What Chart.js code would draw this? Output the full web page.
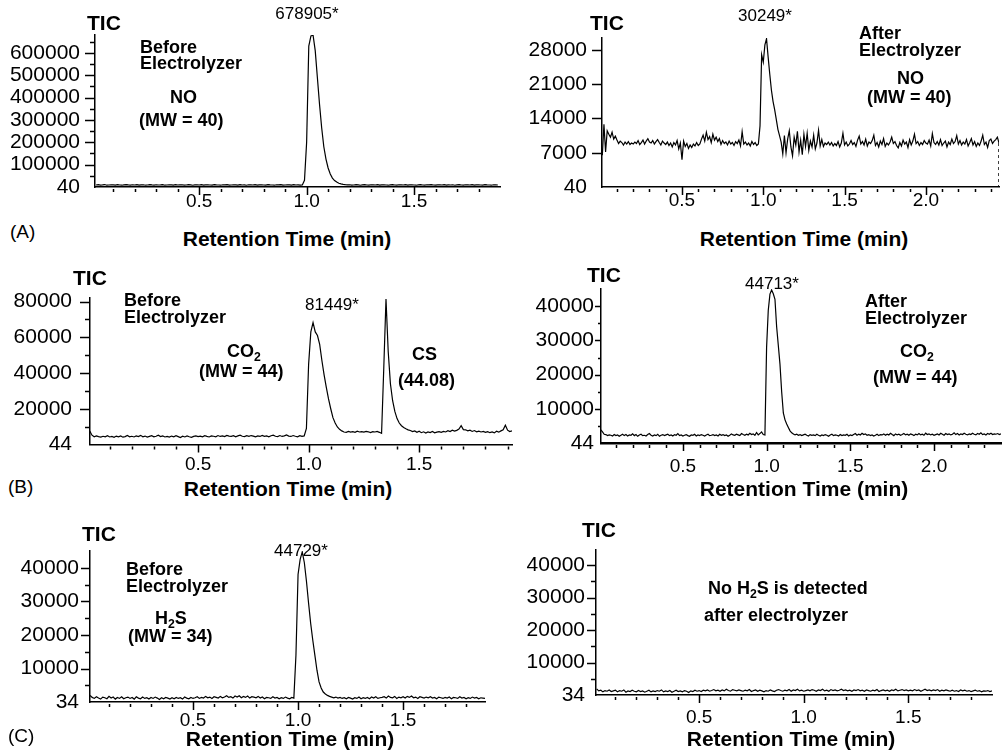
<!DOCTYPE html>
<html>
<head>
<meta charset="utf-8">
<script src="https://cdn.jsdelivr.net/npm/chart.js@4.4.1/dist/chart.umd.min.js"></script>
<style>
  body { margin: 0; background: #fff; }
  #page { position: relative; width: 1003px; height: 753px; overflow: hidden; background: #fff;
          font-family: 'Liberation Sans', Arial, Helvetica, sans-serif; color: #000; }
  #page canvas { position: absolute; }
  .t { position: absolute; white-space: nowrap; line-height: 1; z-index: 5; }
  .b { font-weight: bold; font-size: 18px; }
  .tic { font-weight: bold; font-size: 21px; }
  .pk { font-size: 17px; transform: translateX(-50%); }
  .ax { font-weight: bold; font-size: 21px; transform: translateX(-50%); }
  .pl { font-size: 19px; }
  sub { font-size: 0.68em; vertical-align: -0.3em; line-height: 0; }
</style>
</head>
<body>
<div id="page">
  <!-- (A) NO before / after -->
  <div class="t tic" style="left:87px;top:12px">TIC</div>
  <div class="t pk" style="left:307px;top:5px">678905*</div>
  <div class="t b" style="left:140px;top:38px">Before</div>
  <div class="t b" style="left:140px;top:54px">Electrolyzer</div>
  <div class="t b" style="left:170px;top:88px">NO</div>
  <div class="t b" style="left:139px;top:111px">(MW = 40)</div>
  <div class="t pl" style="left:10px;top:222px">(A)</div>
  <div class="t ax" style="left:287px;top:228px">Retention Time (min)</div>

  <div class="t tic" style="left:590px;top:12px">TIC</div>
  <div class="t pk" style="left:765px;top:7px">30249*</div>
  <div class="t b" style="left:859px;top:24px">After</div>
  <div class="t b" style="left:859px;top:41px">Electrolyzer</div>
  <div class="t b" style="left:897px;top:69px">NO</div>
  <div class="t b" style="left:867px;top:88px">(MW = 40)</div>
  <div class="t ax" style="left:804px;top:228px">Retention Time (min)</div>

  <!-- (B) CO2 before / after -->
  <div class="t tic" style="left:73px;top:267px">TIC</div>
  <div class="t b" style="left:124px;top:291px">Before</div>
  <div class="t b" style="left:124px;top:308px">Electrolyzer</div>
  <div class="t pk" style="left:332px;top:296px">81449*</div>
  <div class="t b" style="left:227px;top:342px">CO<sub>2</sub></div>
  <div class="t b" style="left:199px;top:362px">(MW = 44)</div>
  <div class="t b" style="left:412px;top:345px">CS</div>
  <div class="t b" style="left:398px;top:371px">(44.08)</div>
  <div class="t pl" style="left:8px;top:477px">(B)</div>
  <div class="t ax" style="left:288px;top:478px">Retention Time (min)</div>

  <div class="t tic" style="left:587px;top:264px">TIC</div>
  <div class="t pk" style="left:772px;top:275px">44713*</div>
  <div class="t b" style="left:865px;top:292px">After</div>
  <div class="t b" style="left:865px;top:309px">Electrolyzer</div>
  <div class="t b" style="left:900px;top:342px">CO<sub>2</sub></div>
  <div class="t b" style="left:873px;top:368px">(MW = 44)</div>
  <div class="t ax" style="left:804px;top:478px">Retention Time (min)</div>

  <!-- (C) H2S before / after -->
  <div class="t tic" style="left:82px;top:523px">TIC</div>
  <div class="t pk" style="left:301px;top:542px">44729*</div>
  <div class="t b" style="left:126px;top:560px">Before</div>
  <div class="t b" style="left:126px;top:577px">Electrolyzer</div>
  <div class="t b" style="left:155px;top:609px">H<sub>2</sub>S</div>
  <div class="t b" style="left:128px;top:627px">(MW = 34)</div>
  <div class="t pl" style="left:8px;top:726px">(C)</div>
  <div class="t ax" style="left:290px;top:728px">Retention Time (min)</div>

  <div class="t tic" style="left:582px;top:519px">TIC</div>
  <div class="t b" style="left:708px;top:579px">No H<sub>2</sub>S is detected</div>
  <div class="t b" style="left:704px;top:606px">after electrolyzer</div>
  <div class="t ax" style="left:791px;top:728px">Retention Time (min)</div>
</div>

<script>
// scan grid: every trace is sampled every 0.01 min from its start time
const scanStep = 0.01;

// (A) NO, before electrolyzer, t = 0.02 .. 1.89
const noBeforeStart = 0.02;
const noBefore = [
  // 0.02 - 0.97
  9000, 10500, 8500, 9500, 11000, 8000, 9000, 10000, 9500, 8500,
  10500, 9000, 8000, 9500, 11000, 9500, 8500, 10000, 9000, 10500,
  8500, 9500, 10000, 8000, 9000, 11000, 9500, 8500, 10000, 9000,
  9500, 10500, 8000, 9000, 10000, 9500, 8500, 11000, 9000, 9500,
  10000, 8500, 9000, 10500, 9500, 8000, 9500, 10000, 9000, 11000,
  8500, 9500, 10000, 9000, 8500, 10500, 9500, 9000, 8000, 10000,
  9500, 11000, 8500, 9000, 10000, 9500, 8500, 10500, 9000, 9500,
  8000, 10000, 9500, 9000, 11000, 8500, 9500, 10000, 9000, 8500,
  10500, 9500, 9000, 8000, 10000, 9500, 11000, 8500, 9000, 10000,
  9500, 8500, 10500, 9000, 9500, 8500,
  // 0.98 - 1.18 peak
  9500, 30000, 200000, 630000, 676000, 678905, 610000, 490000, 370000, 265000,
  180000, 125000, 85000, 58000, 40000, 29000, 22000, 17000, 14000, 12000, 10500,
  // 1.19 - 1.89
  9500, 10000, 8500, 9000, 10500, 9500, 8000, 9500, 11000, 9000,
  8500, 10000, 9500, 9000, 10500, 8500, 9500, 10000, 9000, 8000,
  9500, 11000, 9000, 8500, 10000, 9500, 9000, 10500, 8500, 9500,
  10000, 9000, 8000, 9500, 10500, 9000, 8500, 10000, 9500, 11000,
  9000, 8500, 9500, 10000, 9000, 10500, 8500, 9500, 9000, 10000,
  8000, 9500, 10500, 9000, 8500, 10000, 9500, 9000, 11000, 8500,
  9500, 10000, 9000, 8500, 10500, 9500, 9000, 8000, 10000, 9500,
  9000
];

// (A) NO, after electrolyzer, t = 0.01 .. 2.45
const noAfterStart = 0.01;
const noAfter = [
  6500, 12800, 7200, 11500, 10800, 10200, 11200, 9800, 10400, 9600,
  8900, 9400, 9100, 8600, 9200, 8800, 9300, 8700, 9000, 8800,
  9200, 8900, 9500, 8700, 9100, 9600, 8800, 9400, 9900, 9200,
  9000, 9500, 8800, 9300, 9700, 9100, 8600, 9400, 9000, 8700,
  9200, 8500, 9000, 8200, 9100, 8600, 9500, 7800, 9000, 5600,
  9400, 8300, 8900, 7900, 8600, 8100, 8800, 8400, 9100, 8500,
  8800, 9800, 10600, 9400, 11200, 9700, 10300, 9100, 10800, 9600,
  10200, 9300, 9900, 8700, 9500, 8900, 9200, 8600, 9400, 8800,
  9100, 8500, 9300, 8900, 9600, 8400, 11300, 8800, 9200, 8600,
  9000, 8400, 9300, 8700, 9100, 8500, 8800, 12500, 27000, 25500,
  29000, 30249, 26500, 23000, 19800, 17500, 15800, 13800, 11800, 10500,
  9200, 6800, 10500, 7000, 9800, 11500, 8200, 6400, 10200, 8600,
  11400, 7200, 9600, 6600, 10800, 8300, 11000, 7500, 9400, 8200,
  10600, 7800, 9000, 11600, 8400, 9700, 8300, 9000, 8700, 9200,
  8600, 9100, 8400, 8900, 8500, 9300, 8200, 9000, 11000, 8600,
  9200, 8400, 8800, 9500, 8700, 9100, 8300, 9600, 10400, 8800,
  9300, 8600, 9800, 8400, 9200, 8900, 9500, 10600, 8500, 9100,
  8200, 9400, 8700, 9900, 8300, 9000, 8600, 9200, 10200, 8900,
  9300, 8500, 8000, 9100, 8400, 9600, 8800, 9200, 8100, 9700,
  8600, 9400, 10800, 8900, 9300, 8500, 9100, 8700, 9500, 9000,
  8800, 9600, 8400, 10900, 9100, 8700, 9300, 8600, 9700, 8500,
  9000, 9400, 8200, 9200, 8700, 9800, 8900, 9300, 10500, 8800,
  9500, 8600, 9200, 8800, 9700, 8400, 9100, 9900, 8600, 9300,
  8300, 9000, 8500, 9400, 10600, 8700, 9200, 8100, 9500, 9800,
  8900, 9400, 9700, 10200, 9000
];
// dotted drop at the end of the scan
const noAfterTailTime = 2.45;
const noAfterTail = [9000, 40];

// (B) CO2 before electrolyzer, t = 0.01 .. 1.92
const co2BeforeStart = 0.01;
const co2Before = [
  7500, 5200, 4300, 4800, 4400, 4100, 4600, 4300, 4900, 4200,
  4500, 4000, 4700, 4300, 4800, 4100, 4400, 5000, 4300, 4600,
  4200, 4800, 4400, 5100, 4300, 4700, 4100, 4500, 4900, 4300,
  4600, 5200, 4400, 4800, 4200, 4500, 4100, 4700, 4300, 4900,
  4400, 3900, 4600, 4200, 4800, 4300, 4000, 4500, 4800, 4400,
  4700, 4300, 4900, 4500, 4200, 4800, 4600, 4300, 5000, 4500,
  4800, 4400, 5100, 4700, 4500, 4900, 4300, 4800, 5200, 4600,
  4400, 4900, 4600, 5000, 4700, 4300, 4800, 4500, 5100, 4600,
  4800, 4300, 4900, 5200, 4600, 4400, 5000, 4500, 4800, 5300,
  4700, 4500, 5000, 4600, 4300, 4900, 4500, 4800, 9000, 45000,
  63000, 68200, 63000, 61000, 56000, 47000, 39000, 32000, 25500, 20000,
  15000, 12000, 9800, 8500, 7600, 7000, 6800, 7300, 6900, 7200,
  6800, 7400, 7000, 7200, 6900, 7300, 7100, 6700, 7200, 7000,
  7300, 6800, 6200, 43000, 81449, 52000, 34000, 24500, 18500, 14500,
  12000, 10500, 9500, 8800, 8200, 7800, 7200, 7600, 6800, 7400,
  6600, 7100, 6400, 7000, 6700, 7300, 6500, 6900, 7200, 6800,
  7300, 7000, 7700, 7200, 8000, 7500, 7900, 8600, 10500, 8300,
  8200, 7600, 8000, 7300, 7800, 7100, 7500, 7000, 7300, 6800,
  7200, 6600, 7000, 6500, 7400, 6900, 7600, 8200, 10800, 8000,
  7200, 7600
];

// (B) CO2 after electrolyzer, t = 0.01 .. 2.40
const co2AfterStart = 0.01;
const co2After = [
  3900, 3300, 2600, 2500, 2200, 2400, 2300, 2100, 2500, 2200,
  2400, 2000, 2300, 2600, 2200, 2500, 2100, 2400, 2300, 2700,
  2200, 2500, 2000, 2400, 2600, 2200, 2300, 2100, 2500, 2800,
  2300, 2100, 2400, 2200, 2600, 2000, 2300, 2500, 2200, 2400,
  2600, 2200, 2400, 2100, 2500, 2300, 2800, 2200, 2400, 2100,
  2300, 2500, 2200, 2000, 2400, 2300, 2600, 2100, 2400, 2200,
  2500, 2300, 2100, 2400, 2600, 2200, 2300, 2500, 2200, 2400,
  2100, 2600, 2300, 2500, 2200, 2400, 2000, 2300, 2700, 2400,
  2300, 2600, 2400, 2200, 2800, 2500, 2300, 2600, 2400, 2900,
  2500, 2700, 2300, 3100, 2400, 2800, 3300, 2500, 2400, 28000,
  38800, 43500, 44713, 43600, 42000, 34000, 28500, 23000, 15000, 8800,
  6800, 5600, 4600, 3600, 3000, 2700, 2400, 2600, 2300, 2500,
  2200, 2400, 2600, 2300, 2100, 2500, 2300, 2400, 2200, 2600,
  2300, 2100, 2400, 2200, 2500, 2300, 2000, 2400, 2600, 2200,
  2400, 2300, 2100, 2500, 2200, 2400, 2300, 2600, 2100, 2400,
  2200, 2500, 2800, 2300, 2600, 2400, 2900, 2500, 2700, 2300,
  2500, 2200, 2400, 2100, 2300, 2600, 2200, 2500, 2400, 2700,
  2300, 2600, 2400, 2900, 2500, 2200, 2700, 2400, 2600, 2300,
  2500, 2800, 2400, 2600, 2300, 2700, 2500, 2200, 2600, 2400,
  2800, 2400, 2600, 2300, 2900, 2500, 2700, 2400, 2600, 2300,
  2500, 2700, 2400, 2900, 2600, 2300, 2800, 2500, 2700, 2400,
  2600, 3000, 2500, 2800, 2400, 2700, 2500, 2900, 2600, 2400,
  2700, 2500, 2900, 2600, 2400, 2800, 2600, 3000, 2500, 2700,
  2400, 2800, 2600, 2900, 2500, 2700, 2600, 2800, 2500, 2700
];

// (C) H2S before electrolyzer, t = 0.01 .. 1.89
const h2sBeforeStart = 0.01;
const h2sBefore = [
  2000, 1400, 1100, 1600, 1200, 900, 1500, 1300, 1000, 1700,
  1200, 1500, 900, 1400, 1100, 1600, 1000, 1300, 1500, 1100,
  1400, 900, 1600, 1200, 1000, 1500, 1100, 1300, 900, 1400,
  1100, 1500, 1200, 800, 1300, 1000, 1400, 1200, 900, 1300,
  1000, 1400, 1100, 1300, 900, 1500, 1200, 1000, 1400, 1100,
  1300, 1600, 1100, 1400, 1200, 1700, 1300, 1500, 1100, 1600,
  1400, 1200, 1700, 1300, 1500, 1900, 1400, 1600, 1200, 1800,
  1500, 1900, 1300, 1700, 1400, 1800, 1200, 1600, 1500, 1300,
  1700, 1200, 1500, 1000, 1400, 1300, 1100, 1600, 1200, 1400,
  1000, 1300, 1100, 1500, 1200, 1000, 1400, 1200, 14000, 38000,
  42500, 44729, 41500, 36000, 29500, 23500, 18500, 14000, 9500, 6000,
  4200, 3000, 2400, 2000, 1700, 1500, 1300, 1500, 1200, 1400,
  1100, 1300, 1000, 1400, 1200, 900, 1300, 1100, 1500, 1000,
  1300, 1100, 1400, 1000, 1500, 1200, 1600, 1100, 1300, 1400,
  1600, 1200, 1800, 1400, 1300, 1700, 1100, 1500, 1300, 1600,
  1200, 1700, 1400, 1800, 1300, 1500, 1100, 1600, 1400, 1200,
  1500, 1300, 1600, 1200, 1400, 1000, 1500, 1300, 1100, 1400,
  1200, 1500, 1000, 1400, 1300, 1100, 1600, 1200, 1400, 1000,
  1300, 1100, 1500, 1200, 1400, 1000, 1300, 1200, 1100
];

// (C) H2S after electrolyzer, t = 0.01 .. 1.90
const h2sAfterStart = 0.01;
const h2sAfter = [
  1900, 1300, 1500, 1000, 1400, 1200, 1600, 1100, 1300, 1500,
  1000, 1400, 1200, 1600, 900, 1300, 1100, 1500, 1200, 1000,
  1400, 1100, 1300, 900, 1200, 1500, 1000, 1300, 1100, 1400,
  1200, 1600, 1000, 1300, 1100, 1400, 900, 1200, 1500, 1100,
  1300, 1000, 1400, 1200, 800, 1300, 1100, 1500, 1200, 1400,
  1100, 1500, 1300, 1600, 1200, 1400, 1700, 1300, 1500, 1200,
  1600, 1300, 1800, 1400, 1200, 1700, 1500, 1300, 1600, 1400,
  1200, 1500, 1300, 1700, 1100, 1400, 1600, 1200, 1500, 1300,
  1000, 1400, 1200, 1600, 1300, 1100, 1500, 1700, 1400, 1200,
  1500, 1300, 1700, 1200, 1600, 1400, 1800, 1300, 1500, 1200,
  1400, 1600, 1300, 1700, 1500, 1200, 1600, 1400, 1800, 1300,
  1500, 1200, 1700, 1400, 1600, 1300, 1500, 1800, 1400, 1600,
  1300, 1500, 1200, 1600, 1400, 1700, 1300, 1500, 1200, 1600,
  1400, 1200, 1500, 1300, 1700, 1100, 1400, 1600, 1300, 1500,
  1200, 1600, 1400, 1800, 1300, 1500, 1700, 1400, 1600, 1300,
  1500, 1300, 1700, 1400, 1600, 1200, 1500, 1800, 1400, 1600,
  1300, 1600, 1400, 1700, 1200, 1500, 1300, 1600, 1400, 1200,
  1500, 1200, 1400, 1100, 1600, 1300, 1500, 1200, 1400, 1100,
  1300, 1500, 1200, 1400, 1000, 1300, 1200, 1400, 1100, 1300
];

// axis tick labels
const xLabelsShort = [0.5, 1.0, 1.5];
const xLabelsLong = [0.5, 1.0, 1.5, 2.0];
const yLabelsNoBefore = [40, 100000, 200000, 300000, 400000, 500000, 600000];
const yLabelsNoAfter = [40, 7000, 14000, 21000, 28000];
const yLabelsCo2Before = [44, 20000, 40000, 60000, 80000];
const yLabelsCo2After = [44, 10000, 20000, 30000, 40000];
const yLabelsH2s = [34, 10000, 20000, 30000, 40000];

const FONT = "'Liberation Sans', Arial, Helvetica, sans-serif";
Chart.defaults.font.family = FONT;
Chart.defaults.color = '#000';

function toPoints(start, values) {
  return values.map((v, i) => ({ x: +(start + i * scanStep).toFixed(3), y: v }));
}

// hand-drawn style tick marks (major + minor) on both axes
const tickMarks = {
  id: 'tickMarks',
  afterDraw(chart, args, o) {
    const { ctx, chartArea: a, scales: { x, y } } = chart;
    ctx.save();
    ctx.strokeStyle = '#000';
    ctx.lineWidth = 1.5;
    ctx.beginPath();
    o.yMajor.forEach(v => {
      const py = Math.round(y.getPixelForValue(v)) + 0.5;
      ctx.moveTo(a.left - o.yLen, py); ctx.lineTo(a.left, py);
    });
    if (o.yMinorStep) {
      for (let v = o.yMinorStep; v < y.max; v += o.yMinorStep) {
        if (o.yMajor.includes(v)) continue;
        const py = Math.round(y.getPixelForValue(v)) + 0.5;
        ctx.moveTo(a.left - Math.round(o.yLen / 2), py); ctx.lineTo(a.left, py);
      }
    }
    o.xMajor.forEach(v => {
      const px = Math.round(x.getPixelForValue(v)) + 0.5;
      ctx.moveTo(px, a.bottom); ctx.lineTo(px, a.bottom + 8);
    });
    for (let k = 1; k / 10 < x.max; k++) {
      if (k % 5 === 0) continue;
      const px = Math.round(x.getPixelForValue(k / 10)) + 0.5;
      ctx.moveTo(px, a.bottom + 2); ctx.lineTo(px, a.bottom + 5);
    }
    ctx.stroke();
    ctx.restore();
  }
};

function panel(spec) {
  const page = document.getElementById('page');
  const cv = document.createElement('canvas');
  const [bl, bt, bw, bh] = spec.box;
  const [l, t, r, b] = spec.area;
  cv.width = bw; cv.height = bh;
  cv.style.left = bl + 'px'; cv.style.top = bt + 'px';
  cv.style.width = bw + 'px'; cv.style.height = bh + 'px';
  page.appendChild(cv);

  return new Chart(cv, {
    type: 'line',
    data: { datasets: spec.datasets },
    options: {
      responsive: false,
      animation: false,
      devicePixelRatio: 1,
      events: [],
      layout: { padding: { left: 0, top: t - bt, right: bl + bw - r, bottom: 0 } },
      elements: {
        point: { radius: 0 },
        line: { borderWidth: 1.2, borderColor: '#000', tension: 0 }
      },
      plugins: {
        legend: { display: false },
        tooltip: { enabled: false },
        tickMarks: {
          yMajor: spec.yLabels.slice(1), yMinorStep: spec.yMinorStep, yLen: spec.yLen,
          xMajor: spec.xLabels
        }
      },
      scales: {
        x: {
          type: 'linear', min: spec.xMin, max: spec.xMax,
          afterBuildTicks: s => { s.ticks = spec.xLabels.map(v => ({ value: v })); },
          afterFit: s => { s.height = bt + bh - b; },
          ticks: {
            callback: v => v.toFixed(1), autoSkip: false, maxRotation: 0,
            padding: spec.xPad, font: { size: 19 }, color: '#000'
          },
          grid: { display: false, drawTicks: false },
          border: { display: true, color: '#000', width: spec.xBorder || 1.5 }
        },
        y: {
          type: 'linear', min: spec.yMin, max: spec.yMax,
          afterBuildTicks: s => { s.ticks = spec.yLabels.map(v => ({ value: v })); },
          afterFit: s => { s.width = l - bl; },
          ticks: {
            callback: v => String(v), autoSkip: false,
            padding: spec.yPad, font: { size: 21 }, color: '#000'
          },
          grid: { display: false, drawTicks: false },
          border: { display: true, color: '#000', width: 1.5 }
        }
      }
    },
    plugins: [tickMarks]
  });
}

const trace = (start, values) => ({ data: toPoints(start, values), borderColor: '#000', borderWidth: 1.2 });

// (A) left: NO before
panel({
  box: [0, 0, 505, 215], area: [95, 35, 500, 187],
  xMin: 0.015, xMax: 1.90, xLabels: xLabelsShort, xPad: 3,
  yMin: 40, yMax: 680000, yLabels: yLabelsNoBefore, yMinorStep: 50000, yLen: 10, yPad: 15,
  datasets: [trace(noBeforeStart, noBefore)]
});

// (A) right: NO after
panel({
  box: [505, 0, 498, 215], area: [602, 38, 999, 187],
  xMin: 0.008, xMax: 2.45, xLabels: xLabelsLong, xPad: 2,
  yMin: 40, yMax: 30400, yLabels: yLabelsNoAfter, yMinorStep: null, yLen: 10, yPad: 15,
  datasets: [
    trace(noAfterStart, noAfter),
    { data: noAfterTail.map(v => ({ x: noAfterTailTime, y: v })), borderColor: '#000',
      borderWidth: 1.5, borderDash: [3, 3] }
  ]
});

// (B) left: CO2 before
panel({
  box: [0, 260, 520, 215], area: [90, 298, 512, 446],
  xMin: 0.011, xMax: 1.92, xLabels: xLabelsShort, xPad: 9,
  yMin: 44, yMax: 82000, yLabels: yLabelsCo2Before, yMinorStep: 10000, yLen: 10, yPad: 18,
  datasets: [trace(co2BeforeStart, co2Before)]
});

// (B) right: CO2 after
panel({
  box: [505, 260, 498, 215], area: [601, 289, 1001, 443],
  xMin: 0.011, xMax: 2.40, xLabels: xLabelsLong, xPad: 12, xBorder: 2.5,
  yMin: 44, yMax: 45000, yLabels: yLabelsCo2After, yMinorStep: 5000, yLen: 6, yPad: 7,
  datasets: [trace(co2AfterStart, co2After)]
});

// (C) left: H2S before
panel({
  box: [0, 515, 505, 215], area: [90, 551, 485, 702],
  xMin: 0.0095, xMax: 1.89, xLabels: xLabelsShort, xPad: 7,
  yMin: 34, yMax: 45000, yLabels: yLabelsH2s, yMinorStep: 5000, yLen: 9, yPad: 11,
  datasets: [trace(h2sBeforeStart, h2sBefore)]
});

// (C) right: H2S after
panel({
  box: [505, 515, 498, 215], area: [596, 550, 992, 695],
  xMin: 0.007, xMax: 1.90, xLabels: xLabelsShort, xPad: 11,
  yMin: 34, yMax: 44600, yLabels: yLabelsH2s, yMinorStep: 5000, yLen: 9, yPad: 11,
  datasets: [trace(h2sAfterStart, h2sAfter)]
});
</script>
</body>
</html>
